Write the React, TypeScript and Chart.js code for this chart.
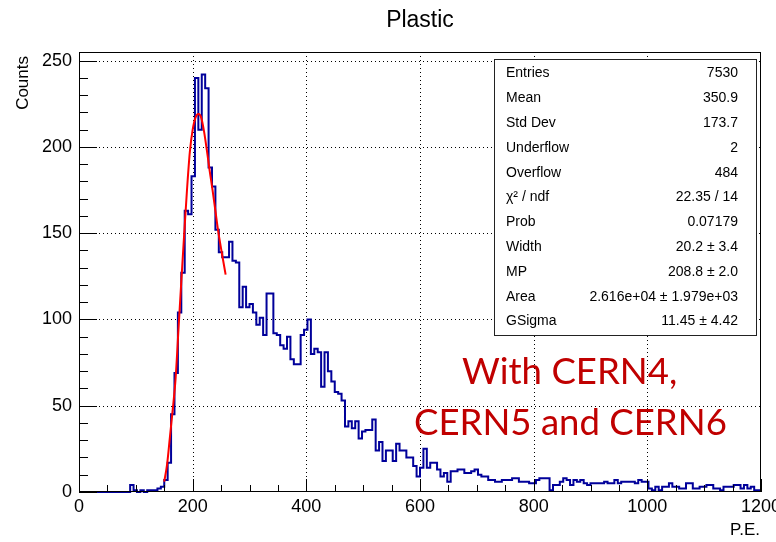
import { useEffect, useRef } from "react";
import { Chart, registerables } from "chart.js";

Chart.register(...registerables);

// ---------- data ----------
const X_MIN = 0;
const X_MAX = 1200;
const BIN_WIDTH = 6;
const Y_MIN = 0;
const Y_MAX = 255;

const xTickValues = [0, 200, 400, 600, 800, 1000, 1200];
const yTickValues = [0, 50, 100, 150, 200, 250];
const X_MINOR_STEP = 50;
const Y_MINOR_STEP = 10;

// counts per bin (200 bins of width 6 from 0 to 1200)
const binCounts = [
  0, 0, 0, 0, 0, 0, 0, 0, 0, 0,
  0, 0, 0, 0, 0, 4, 1, 0, 1, 0,
  1, 1, 1, 2, 3, 7, 17, 45, 69, 104,
  127, 163, 161, 183, 240, 210, 242, 234, 188, 177,
  152, 139, 136, 136, 145, 134, 133, 107, 119, 107,
  109, 104, 97, 101, 91, 115, 115, 92, 91, 85,
  83, 90, 77, 74, 74, 91, 94, 100, 80, 83,
  81, 61, 81, 70, 64, 58, 57, 53, 38, 41,
  37, 41, 31, 35, 36, 36, 42, 24, 29, 18,
  24, 24, 18, 28, 24, 24, 20, 20, 15, 9,
  14, 25, 14, 17, 17, 13, 9, 11, 6, 12,
  12, 13, 13, 11, 11, 12, 13, 10, 9, 9,
  7, 7, 6, 6, 7, 7, 7, 8, 8, 6,
  6, 6, 5, 5, 7, 8, 8, 8, 1, 4,
  4, 6, 8, 7, 4, 7, 6, 7, 5, 4,
  5, 5, 5, 5, 6, 5, 5, 7, 5, 6,
  6, 6, 6, 5, 7, 6, 6, 2, 1, 3,
  1, 3, 3, 5, 3, 3, 2, 2, 5, 5,
  2, 2, 3, 3, 4, 4, 2, 2, 1, 3,
  3, 3, 4, 4, 2, 4, 2, 3, 1, 1,
];

// fitted curve
const fitX = [150, 155, 160, 165, 170, 175, 180, 185, 190, 195, 200, 205, 210, 215, 220, 225, 230, 235, 240, 245, 250, 258];
const fitY = [6, 16, 32, 48, 66, 94, 122, 149, 175, 197, 210, 217, 219, 217, 209, 198, 186, 175, 163, 151, 141, 126];

const statLabels = ["Entries", "Mean", "Std Dev", "Underflow", "Overflow", "\u03C7\u00B2 / ndf", "Prob", "Width", "MP", "Area", "GSigma"];
const statValues = ["7530", "350.9", "173.7", "2", "484", "22.35 / 14", "0.07179", "20.2 \u00B1 3.4", "208.8 \u00B1 2.0", "2.616e+04 \u00B1 1.979e+03", "11.45 \u00B1 4.42"];

const chartTitle = "Plastic";
const xTitle = "P.E.";
const yTitle = "Counts";
const noteLines = ["With CERN4,", "CERN5 and CERN6"];

// ---------- styles ----------
const FONT = "'Liberation Sans', Arial, Helvetica, sans-serif";
const HIST_COLOR = "#00009a";
const FIT_COLOR = "#ff0000";
const NOTE_COLOR = "#c00000";

const decorPlugin = {
  id: "rootDecor",
  beforeDatasetsDraw(chart: any) {
    const { ctx, chartArea: a, scales } = chart;
    const xs = scales.x, ys = scales.y;
    ctx.save();
    ctx.strokeStyle = "#000";
    ctx.lineWidth = 1;
    ctx.setLineDash([1, 3]);
    for (const v of xTickValues) {
      if (v <= X_MIN || v >= X_MAX) continue;
      const px = Math.round(xs.getPixelForValue(v)) + 0.5;
      ctx.beginPath();
      ctx.moveTo(px, a.top);
      ctx.lineTo(px, a.bottom);
      ctx.stroke();
    }
    for (const v of yTickValues) {
      if (v <= Y_MIN) continue;
      const py = Math.round(ys.getPixelForValue(v)) + 0.5;
      ctx.beginPath();
      ctx.moveTo(a.left, py);
      ctx.lineTo(a.right, py);
      ctx.stroke();
    }
    ctx.restore();
  },
  afterDatasetsDraw(chart: any) {
    const { ctx, chartArea: a, scales } = chart;
    const xs = scales.x, ys = scales.y;
    ctx.save();
    ctx.setLineDash([]);
    ctx.strokeStyle = "#000";
    ctx.lineWidth = 1;
    // ticks
    for (let v = X_MIN; v <= X_MAX; v += X_MINOR_STEP) {
      const major = xTickValues.includes(v);
      const px = Math.round(xs.getPixelForValue(v)) + 0.5;
      ctx.beginPath();
      ctx.moveTo(px, a.bottom);
      ctx.lineTo(px, a.bottom - (major ? 13 : 7));
      ctx.stroke();
    }
    for (let v = Y_MIN; v <= 250; v += Y_MINOR_STEP) {
      const major = yTickValues.includes(v);
      const py = Math.round(ys.getPixelForValue(v)) + 0.5;
      ctx.beginPath();
      ctx.moveTo(a.left, py);
      ctx.lineTo(a.left + (major ? 18 : 9), py);
      ctx.stroke();
    }
    // frame
    ctx.strokeRect(Math.round(a.left) + 0.5, Math.round(a.top) + 0.5, Math.round(a.right - a.left) - 1, Math.round(a.bottom - a.top) - 1);

    // stats box
    const bx = 494, by = 59, bw = 262, bh = 276;
    ctx.fillStyle = "#fff";
    ctx.fillRect(bx, by, bw, bh);
    ctx.strokeStyle = "#222";
    ctx.strokeRect(bx + 0.5, by + 0.5, bw, bh);
    ctx.fillStyle = "#000";
    ctx.font = `14px ${FONT}`;
    ctx.textBaseline = "middle";
    statLabels.forEach((lab, i) => {
      const cy = by + 14.5 + i * 24.8;
      ctx.textAlign = "left";
      ctx.fillText(lab, bx + 12, cy);
      ctx.textAlign = "right";
      ctx.fillText(statValues[i], bx + bw - 18, cy);
    });
    ctx.restore();
  },
  afterDraw(chart: any) {
    const { ctx } = chart;
    ctx.save();
    ctx.fillStyle = "#000";
    // title
    ctx.font = `23px ${FONT}`;
    ctx.textAlign = "center";
    ctx.textBaseline = "alphabetic";
    ctx.fillText(chartTitle, 420, 27);
    // x title
    ctx.font = `17px ${FONT}`;
    ctx.textAlign = "right";
    ctx.fillText(xTitle, 760, 535);
    // y title
    ctx.save();
    ctx.translate(28, 56);
    ctx.rotate(-Math.PI / 2);
    ctx.textAlign = "right";
    ctx.textBaseline = "alphabetic";
    ctx.fillText(yTitle, 0, 0);
    ctx.restore();
    // note text
    ctx.fillStyle = NOTE_COLOR;
    ctx.font = `40px Lato, 'Open Sans', sans-serif`;
    const w = ctx.measureText(noteLines[1]).width;
    const size = 40 * 313 / w;
    ctx.font = `${size}px Lato, 'Open Sans', sans-serif`;
    ctx.textAlign = "left";
    ctx.textBaseline = "alphabetic";
    ctx.fillText(noteLines[0], 462, 384);
    ctx.fillText(noteLines[1], 414, 435);
    ctx.restore();
  },
};

export default function App() {
  const ref = useRef<HTMLCanvasElement | null>(null);
  useEffect(() => {
    if (!ref.current) return;
    const histPoints = binCounts.map((c, i) => ({ x: X_MIN + i * BIN_WIDTH, y: c }));
    histPoints.push({ x: X_MAX, y: binCounts[binCounts.length - 1] });
    const fitPoints = fitX.map((x, i) => ({ x, y: fitY[i] }));
    const chart = new Chart(ref.current, {
      type: "line",
      data: {
        datasets: [
          {
            label: "fit",
            data: fitPoints,
            borderColor: FIT_COLOR,
            borderWidth: 2,
            pointRadius: 0,
            cubicInterpolationMode: "monotone",
            fill: false,
          },
          {
            label: "hist",
            data: histPoints,
            borderColor: HIST_COLOR,
            borderWidth: 2,
            pointRadius: 0,
            stepped: "before",
            fill: false,
            clip: 2,
          },
        ],
      },
      options: {
        animation: false,
        responsive: false,
        devicePixelRatio: 1,
        layout: { padding: { left: 0, right: 15, top: 52, bottom: 0 } },
        plugins: { legend: { display: false }, tooltip: { enabled: false }, title: { display: false } },
        scales: {
          x: {
            type: "linear",
            min: X_MIN,
            max: X_MAX,
            grid: { display: false, drawTicks: false },
            border: { display: false },
            afterBuildTicks: (s: any) => { s.ticks = xTickValues.map((v) => ({ value: v })); },
            afterFit: (s: any) => { s.height = 50; s.paddingLeft = 0; s.paddingRight = 0; },
            ticks: { color: "#000", font: { family: FONT, size: 18 }, padding: 4, maxRotation: 0, autoSkip: false, callback: (v: any) => String(v) },
          },
          y: {
            type: "linear",
            min: Y_MIN,
            max: Y_MAX,
            grid: { display: false, drawTicks: false },
            border: { display: false },
            afterBuildTicks: (s: any) => { s.ticks = yTickValues.map((v) => ({ value: v })); },
            afterFit: (s: any) => { s.width = 79; s.paddingTop = 0; s.paddingBottom = 0; },
            ticks: { color: "#000", font: { family: FONT, size: 18 }, padding: 7, autoSkip: false, callback: (v: any) => String(v) },
          },
        },
      },
      plugins: [decorPlugin],
    } as any);
    return () => chart.destroy();
  }, []);
  return (
    <div style={{ position: "absolute", left: 0, top: 0, width: 776, height: 542, background: "#fff" }}>
      <canvas ref={ref} width={776} height={542} style={{ width: 776, height: 542, display: "block" }} />
    </div>
  );
}
